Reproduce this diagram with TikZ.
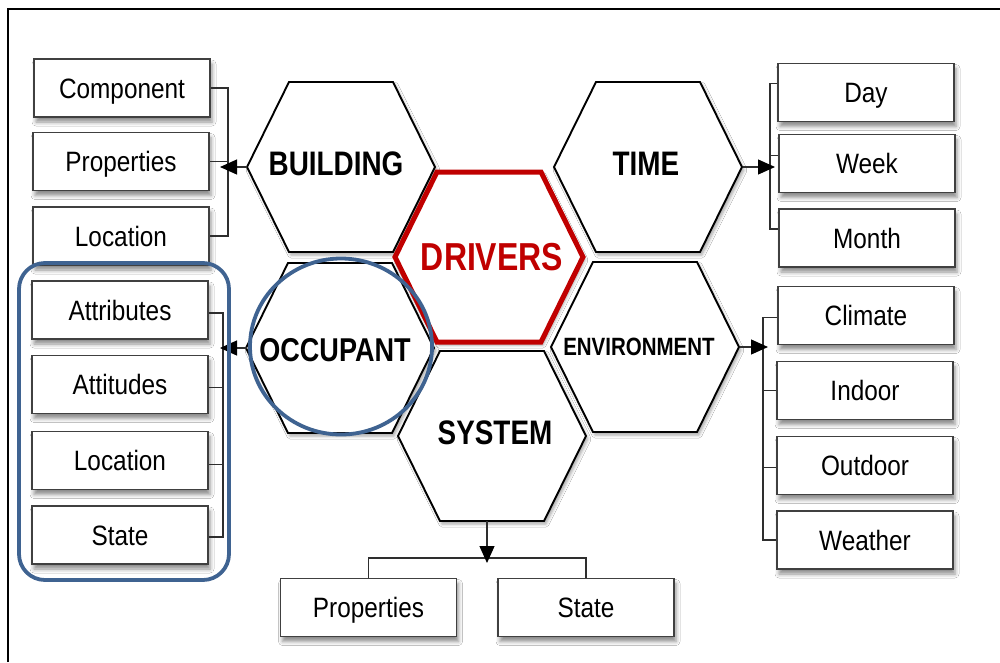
\documentclass[tikz,border=0pt]{standalone}
\usepackage{fontspec}
\setmainfont{Liberation Sans}
\newfontfamily\boxfont[FakeStretch=0.87]{Liberation Sans}
\newfontfamily\hexfont[FakeStretch=0.82]{Liberation Sans}
\usetikzlibrary{arrows.meta,shadows.blur,calc}
\definecolor{boxgray}{HTML}{404040}
\definecolor{conngray}{HTML}{2E2E2E}
\definecolor{drvred}{HTML}{C00000}
\definecolor{hlblue}{HTML}{3F6391}
\newcommand{\drawhex}[3][hexline]{\path[#1] (#2,#3) ++(-94,0) -- ++(42,-85) -- ++(104,0) -- ++(42,85) -- ++(-42,85) -- ++(-104,0) -- cycle;}
\tikzset{
  boxnode/.style={draw=boxgray, line width=1.4pt, fill=white, minimum width=176pt, minimum height=58pt, inner sep=0pt,
    text height=26pt, text depth=6pt, font=\boxfont\fontsize{28}{30}\selectfont,
    blur shadow={shadow xshift=2pt, shadow yshift=-5pt, shadow blur radius=4pt, shadow opacity=45}},
  hexline/.style={draw=black, line width=1.9pt, line join=miter, fill=white,
    blur shadow={shadow xshift=2pt, shadow yshift=-3pt, shadow blur radius=3pt, shadow opacity=35}},
  redhex/.style={draw=drvred, line width=5pt, line join=miter, fill=white,
    blur shadow={shadow xshift=2pt, shadow yshift=-3pt, shadow blur radius=3pt, shadow opacity=35}},
  hexlabel/.style={inner sep=0pt, font=\hexfont\bfseries\fontsize{34}{36}\selectfont},
  conn/.style={draw=conngray, line width=1.2pt},
  arr/.style={conn, -{Triangle[length=17pt,width=15pt,fill=black,color=black]}},
  blueline/.style={draw=hlblue, line width=3.8pt},
}
\begin{document}
\begin{tikzpicture}[x=1pt, y=-1pt]
\useasboundingbox (0,0) rectangle (1000,662);
\fill[white] (0,0) rectangle (1000,662);
% frame
\draw[black, line width=2pt] (8,662) -- (8,9) -- (1000,9);

% left boxes
\node[boxnode] (comp)  at (122,88)    {Component};
\node[boxnode] (bprop) at (121,161.5) {Properties};
\node[boxnode] (bloc)  at (121,236)   {Location};
\node[boxnode] (oattr) at (120,310)   {Attributes};
\node[boxnode] (oatti) at (120,384.5) {Attitudes};
\node[boxnode] (oloc)  at (120,460.5) {Location};
\node[boxnode] (ostat) at (120,535)   {State};
% right boxes
\node[boxnode] (day)   at (866,92.5)  {Day};
\node[boxnode] (week)  at (867,163.5) {Week};
\node[boxnode] (month) at (867,238)   {Month};
\node[boxnode] (clim)  at (866,315.5) {Climate};
\node[boxnode] (indoor) at (865,390.5) {Indoor};
\node[boxnode] (outdoor) at (865,465.5) {Outdoor};
\node[boxnode] (weather) at (865,540) {Weather};
% bottom boxes
\node[boxnode] (sprop) at (368.5,607.5) {Properties};
\node[boxnode] (sstat) at (586,607.5)   {State};

% hexagons
\drawhex{341}{167}
\drawhex{648}{167}
\drawhex{340}{348}
\drawhex{645}{347}
\drawhex{492}{436}
\drawhex[redhex]{489}{257}

% hexagon tips and bars
\coordinate (bW) at (247,167);   \coordinate (bTip) at (220,167); \coordinate (bBar) at (228,0);
\coordinate (tE) at (743,167);   \coordinate (tTip) at (775,167); \coordinate (tBar) at (770,0);
\coordinate (oW) at (247,348);   \coordinate (oTip) at (220,348); \coordinate (oBar) at (223,0);
\coordinate (eE) at (740,347);   \coordinate (eTip) at (768,347); \coordinate (eBar) at (763,0);
\coordinate (sS) at (487,521);   \coordinate (sTip) at (487,563); \coordinate (sBar) at (0,558);

% labels
\node[hexlabel] (building) at (336,164) {BUILDING};
\node[hexlabel] (time) at (646,164) {TIME};
\node[hexlabel, text=drvred, font=\hexfont\bfseries\fontsize{39}{40}\selectfont] (drivers) at (492,257) {DRIVERS};
\node[hexlabel, font=\hexfont\bfseries\fontsize{33}{35}\selectfont] (occupant) at (335,350) {OCCUPANT};
\node[hexlabel, font=\hexfont\bfseries\fontsize{25}{27}\selectfont] (environment) at (639,347) {ENVIRONMENT};
\node[hexlabel] (system) at (495,433) {SYSTEM};

% BUILDING connectors
\draw[conn] (comp.east) -| (bBar |- bloc.east) -- (bloc.east);
\draw[conn] (bprop.east) -- (bBar |- bprop.east);
\draw[arr] (bW) -- (bTip);

% TIME connectors
\coordinate (dayS) at ([yshift=9pt]day.west);
\coordinate (weekS) at ([yshift=8pt]week.west);
\coordinate (monthS) at ([yshift=9pt]month.west);
\draw[conn] (dayS) -| (tBar |- monthS) -- (monthS);
\draw[conn] (weekS) -- (tBar |- weekS);
\draw[arr] (tE) -- (tTip);

% OCCUPANT connectors
\coordinate (attrS) at ([yshift=-3pt]oattr.east);
\coordinate (attiS) at ([yshift=-3pt]oatti.east);
\coordinate (olocS) at ([yshift=-4pt]oloc.east);
\coordinate (ostatS) at ([yshift=-2pt]ostat.east);
\draw[conn] (attrS) -| (oBar |- ostatS) -- (ostatS);
\draw[conn] (attiS) -- (oBar |- attiS);
\draw[conn] (olocS) -- (oBar |- olocS);
\draw[arr] (oW) -- (oTip);

% ENVIRONMENT connectors
\coordinate (climS) at ([yshift=-2pt]clim.west);
\coordinate (outS) at ([yshift=-2pt]outdoor.west);
\draw[conn] (climS) -| (eBar |- weather.west) -- (weather.west);
\draw[conn] (indoor.west) -- (eBar |- indoor.west);
\draw[conn] (outS) -- (eBar |- outS);
\draw[arr] (eE) -- (eTip);

% SYSTEM connectors
\draw[conn] (sprop.north) |- (sstat.north |- sBar) -- (sstat.north);
\draw[arr] (sS) -- (sTip);

% highlights
\draw[blueline] (341,346.5) ellipse [x radius=91pt, y radius=88pt];
\draw[blueline, rounded corners=26pt] (19,263) rectangle (229,580);
\end{tikzpicture}
\end{document}
